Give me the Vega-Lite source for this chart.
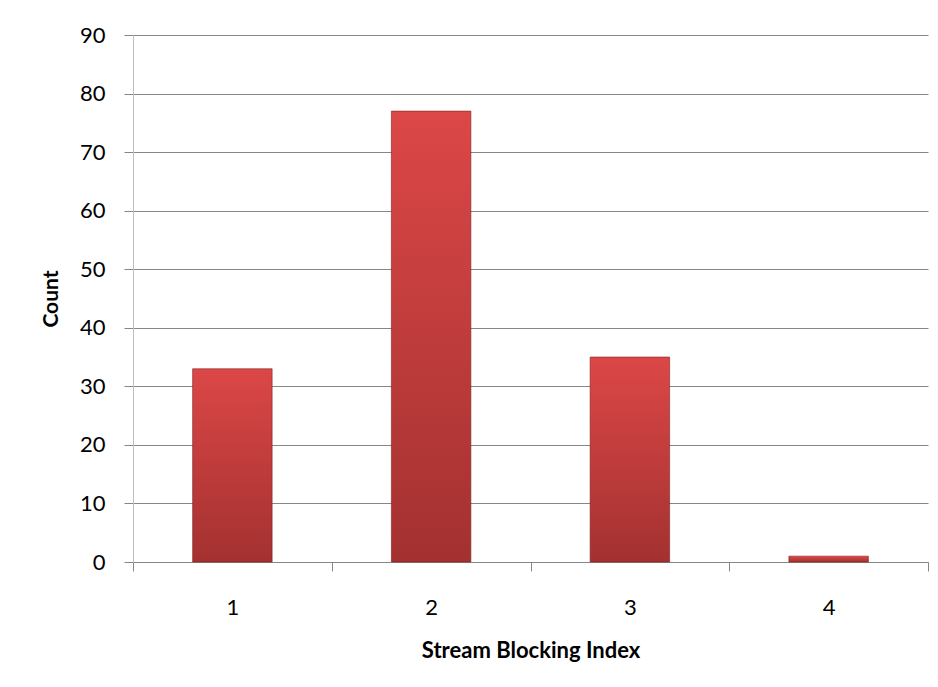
{
  "$schema": "https://vega.github.io/schema/vega-lite/v6.json",
  "width": 795,
  "height": 527,
  "autosize": "none",
  "padding": {"left": 133, "top": 35, "right": 10, "bottom": 125},
  "background": "white",
  "data": {
    "values": [
      {"index": "1", "count": 33},
      {"index": "2", "count": 77},
      {"index": "3", "count": 35},
      {"index": "4", "count": 1}
    ]
  },
  "mark": {
    "type": "bar",
    "width": {"band": 0.4},
    "color": {
      "gradient": "linear",
      "x1": 0, "y1": 0, "x2": 0, "y2": 1,
      "stops": [
        {"offset": 0, "color": "#dc4747"},
        {"offset": 1, "color": "#a33130"}
      ]
    },
    "stroke": "#7e2322",
    "strokeWidth": 1,
    "strokeOpacity": 0.6
  },
  "encoding": {
    "x": {
      "field": "index",
      "type": "ordinal",
      "scale": {"paddingInner": 0, "paddingOuter": 0},
      "axis": {
        "title": "Stream Blocking Index",
        "titleFont": "Lato",
        "titleFontSize": 22,
        "titleFontWeight": "bold",
        "titleColor": "#000000",
        "titlePadding": 22,
        "labelFont": "Lato",
        "labelFontSize": 22,
        "labelColor": "#000000",
        "labelAngle": 0,
        "labelPadding": 26,
        "tickBand": "extent",
        "tickSize": 9,
        "tickColor": "#868686",
        "domainColor": "#868686",
        "grid": false
      }
    },
    "y": {
      "field": "count",
      "type": "quantitative",
      "scale": {"domain": [0, 90]},
      "axis": {
        "title": "Count",
        "titleFont": "Lato",
        "titleFontSize": 21,
        "titleFontWeight": "bold",
        "titleColor": "#000000",
        "titlePadding": 18,
        "values": [0, 10, 20, 30, 40, 50, 60, 70, 80, 90],
        "labelFont": "Lato",
        "labelFontSize": 22,
        "labelColor": "#000000",
        "labelPadding": 19,
        "tickSize": 9,
        "tickColor": "#868686",
        "domainColor": "#c0c0c0",
        "grid": true,
        "gridColor": "#868686",
        "gridWidth": 1
      }
    }
  },
  "config": {
    "view": {"stroke": null}
  }
}
